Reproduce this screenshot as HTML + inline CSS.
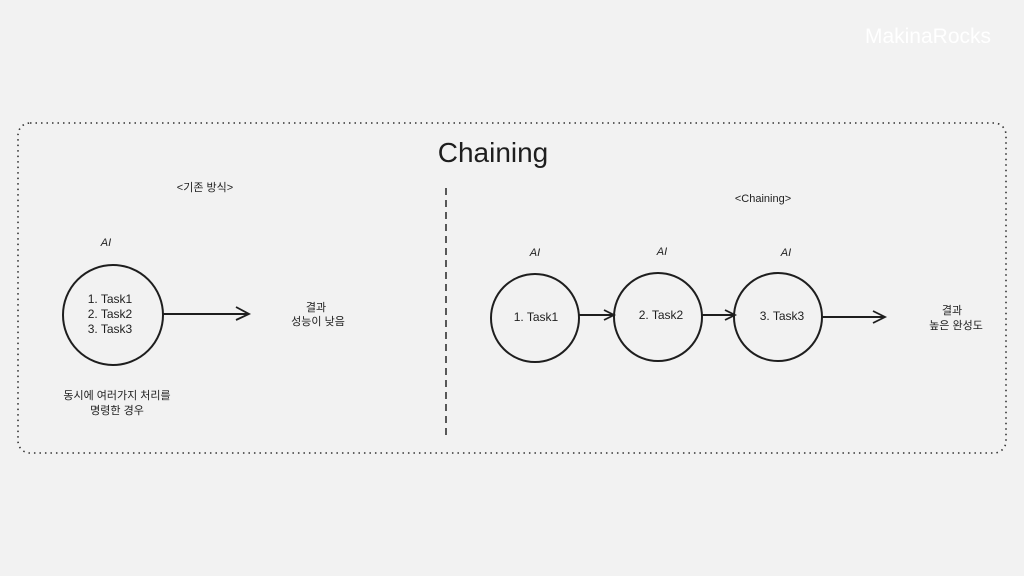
<!DOCTYPE html>
<html><head><meta charset="utf-8"><style>
body{margin:0;width:1024px;height:576px;background:#f2f2f2;overflow:hidden;font-family:"Liberation Sans","Noto Sans CJK KR",sans-serif;}
</style></head><body>
<svg width="1024" height="576" xmlns="http://www.w3.org/2000/svg" style="position:absolute;left:0;top:0">
<text x="928" y="43" font-size="21" fill="#ffffff" text-anchor="middle" font-family="Liberation Sans,sans-serif">MakinaRocks</text>
<rect x="18" y="123" width="988" height="330" rx="12" fill="none" stroke="#333" stroke-width="1.6" stroke-dasharray="1.5 4"/>
<line x1="446" y1="188" x2="446" y2="440" stroke="#333" stroke-width="1.6" stroke-dasharray="7 5"/>
<text x="493" y="162" font-size="28" fill="#1e1e1e" text-anchor="middle" font-family="Liberation Sans,sans-serif">Chaining</text>
<g font-family="Liberation Sans,Noto Sans CJK KR,sans-serif" fill="#1e1e1e" font-size="11" text-anchor="middle">
<text x="205" y="191">&lt;기존 방식&gt;</text>
<text x="106" y="246" font-style="italic">AI</text>
<circle cx="113" cy="315" r="50" fill="none" stroke="#1e1e1e" stroke-width="2"/>
<text x="110" y="303" font-size="12">1. Task1</text>
<text x="110" y="318" font-size="12">2. Task2</text>
<text x="110" y="333" font-size="12">3. Task3</text>
<line x1="163" y1="314" x2="249" y2="314" stroke="#1e1e1e" stroke-width="2"/>
<polyline points="236,307 249,314 236,320" fill="none" stroke="#1e1e1e" stroke-width="1.8"/>
<text x="316" y="311">결과</text>
<text x="318" y="325">성능이 낮음</text>
<text x="117" y="399">동시에 여러가지 처리를</text>
<text x="117" y="414">명령한 경우</text>
<text x="763" y="202">&lt;Chaining&gt;</text>
<text x="535" y="256" font-style="italic">AI</text>
<text x="662" y="255" font-style="italic">AI</text>
<text x="786" y="256" font-style="italic">AI</text>
<circle cx="535" cy="318" r="44" fill="none" stroke="#1e1e1e" stroke-width="2"/>
<circle cx="658" cy="317" r="44" fill="none" stroke="#1e1e1e" stroke-width="2"/>
<circle cx="778" cy="317" r="44" fill="none" stroke="#1e1e1e" stroke-width="2"/>
<text x="536" y="321" font-size="12">1. Task1</text>
<text x="661" y="319" font-size="12">2. Task2</text>
<text x="782" y="320" font-size="12">3. Task3</text>
<line x1="579" y1="315" x2="614" y2="315" stroke="#1e1e1e" stroke-width="2"/>
<polyline points="604,310 614,315 604,320" fill="none" stroke="#1e1e1e" stroke-width="1.8"/>
<line x1="701" y1="315" x2="735" y2="315" stroke="#1e1e1e" stroke-width="2"/>
<polyline points="725,310 735,315 725,320" fill="none" stroke="#1e1e1e" stroke-width="1.8"/>
<line x1="822" y1="317" x2="885" y2="317" stroke="#1e1e1e" stroke-width="2"/>
<polyline points="873,311 885,317 873,323" fill="none" stroke="#1e1e1e" stroke-width="1.8"/>
<text x="952" y="314">결과</text>
<text x="956" y="329">높은 완성도</text>
</g>
</svg>
</body></html>
